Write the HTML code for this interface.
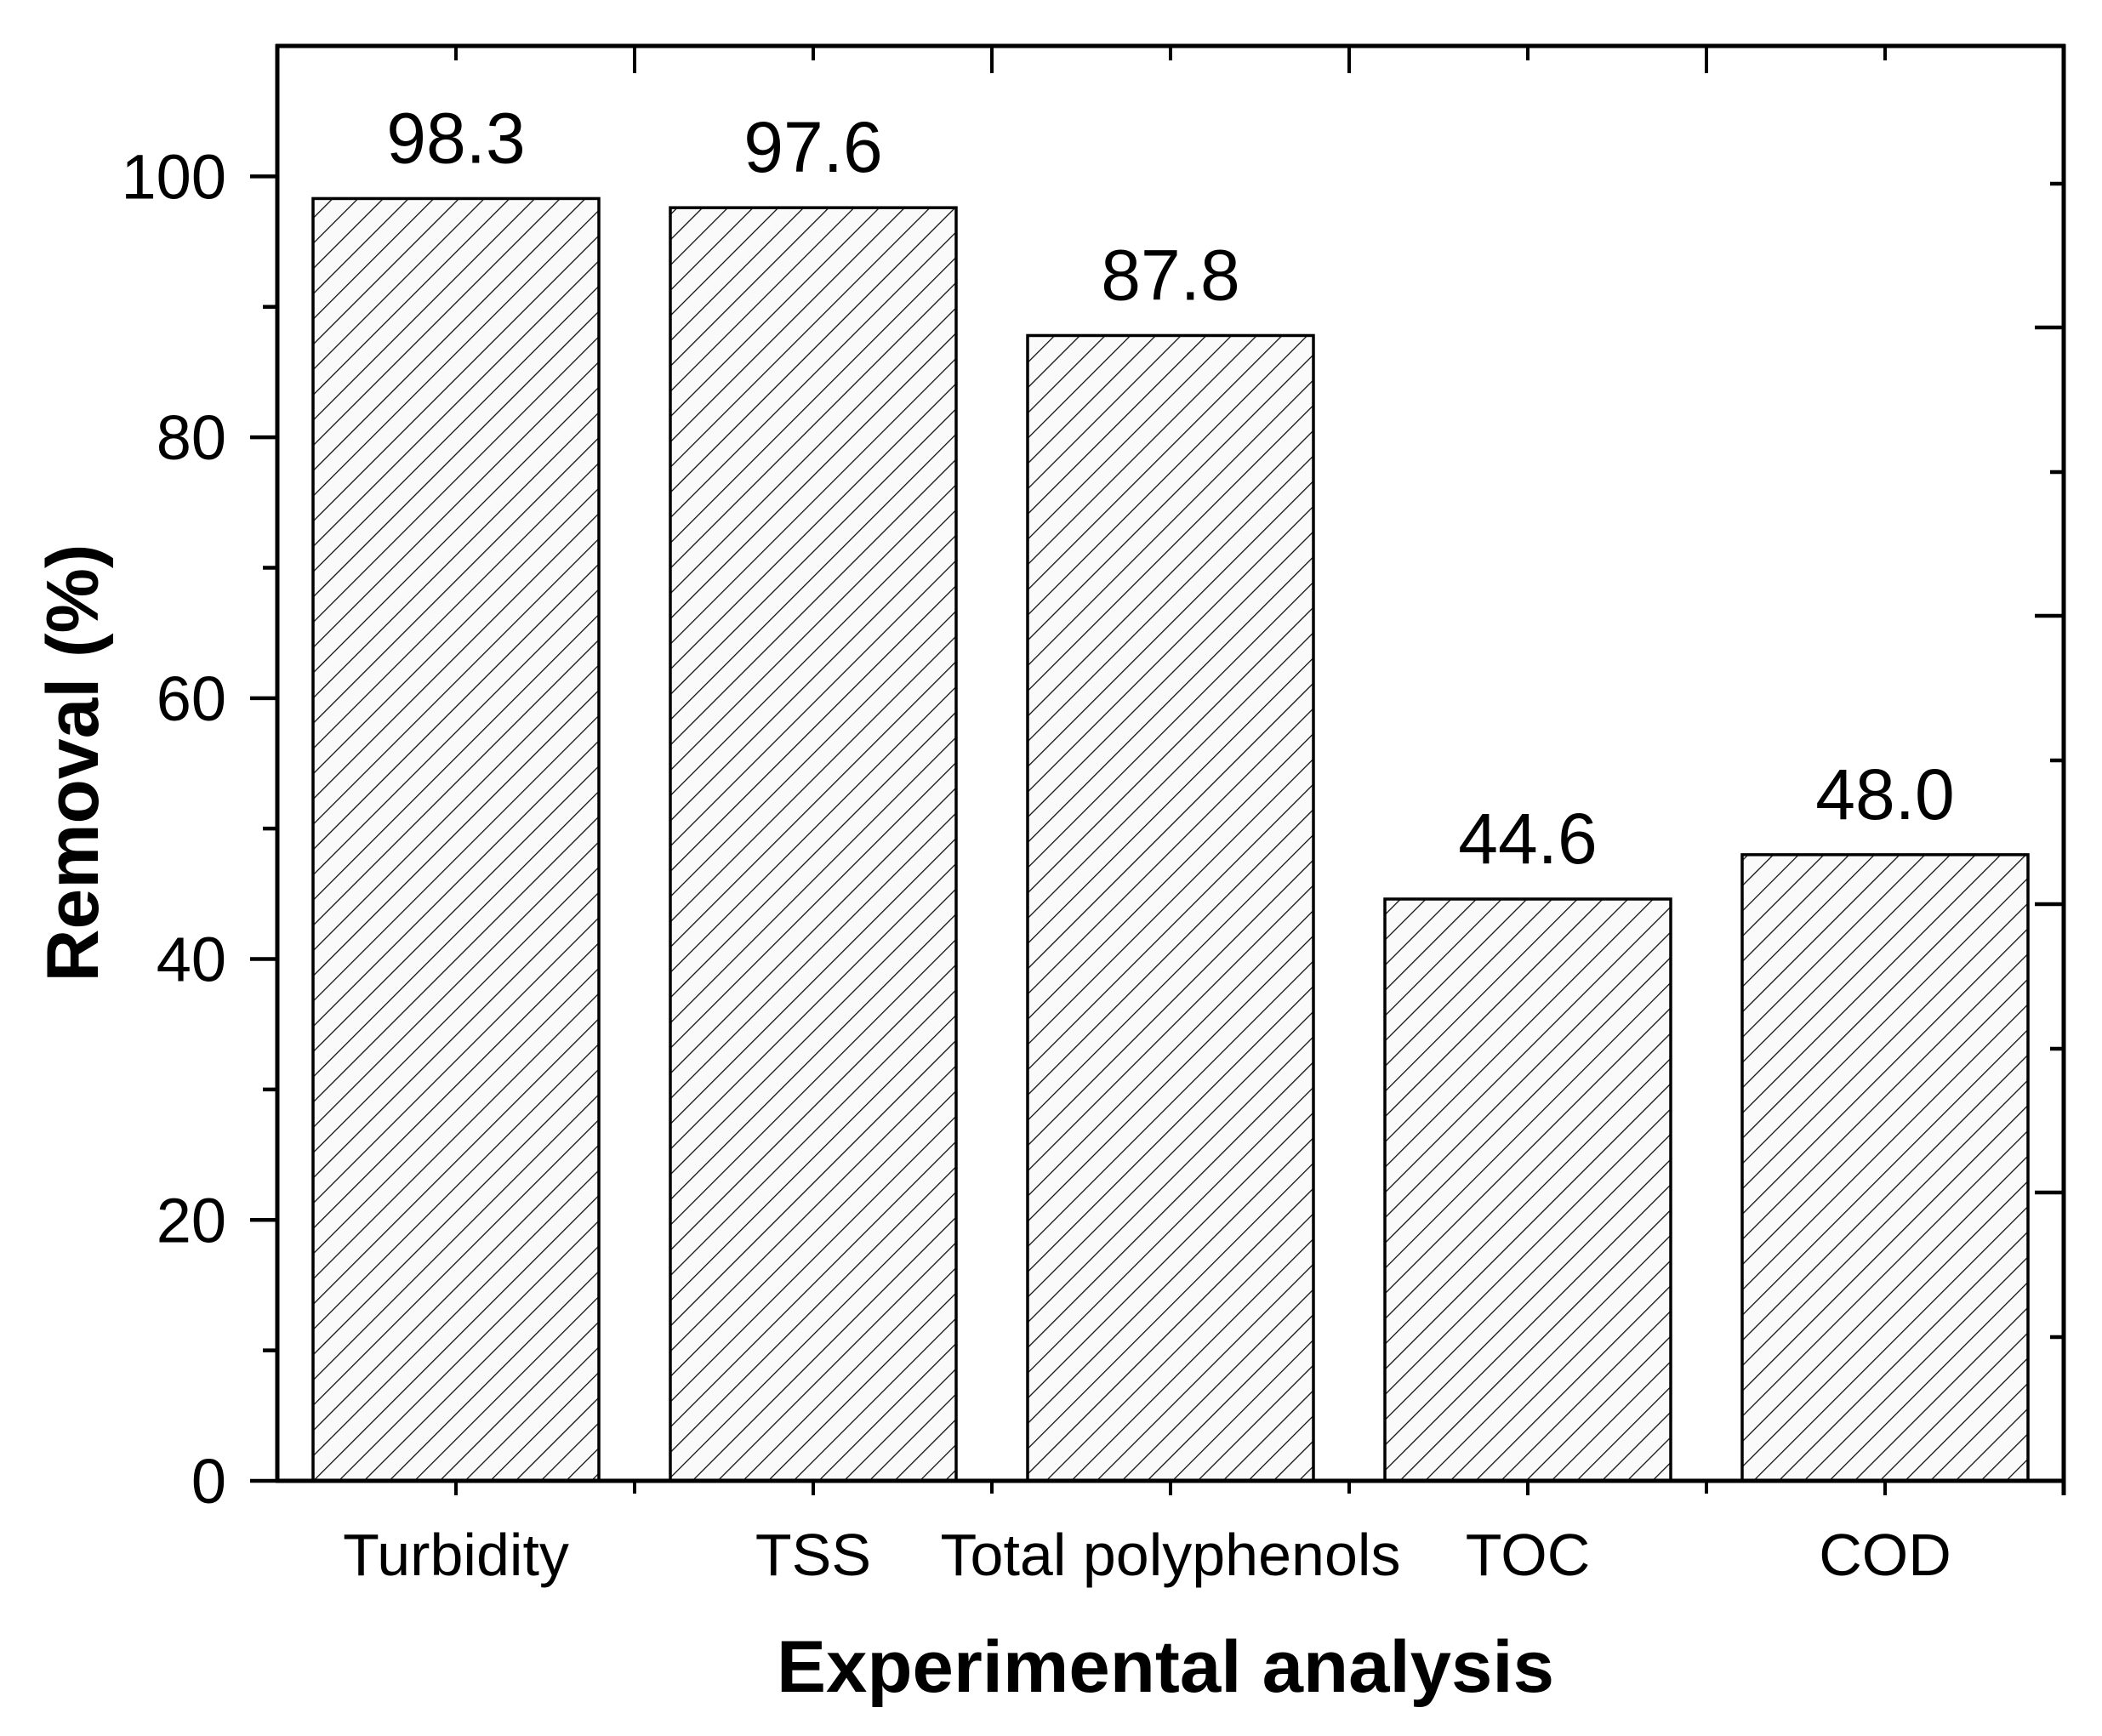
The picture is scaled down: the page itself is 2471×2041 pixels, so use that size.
<!DOCTYPE html>
<html><head><meta charset="utf-8"><style>
html,body{margin:0;padding:0;background:#fff;}
svg{display:block;}
text{font-family:"Liberation Sans",Arial,sans-serif;fill:#000;}
</style></head><body>
<svg id="chart" width="2471" height="2041" viewBox="0 0 2471 2041" xmlns="http://www.w3.org/2000/svg">
<defs>
<pattern id="hatch" patternUnits="userSpaceOnUse" width="21" height="21" patternTransform="rotate(45)">
<rect width="21" height="21" fill="#fafafa"/>
<line x1="0" y1="0" x2="0" y2="21" stroke="#111" stroke-width="2.6"/>
</pattern>
</defs>
<g id="plot"></g>
</svg>
<script>
const categories = ["Turbidity","TSS","Total polyphenols","TOC","COD"];
const values = [98.3, 97.6, 87.8, 44.6, 48.0];
const valueLabels = ["98.3","97.6","87.8","44.6","48.0"];
const yTicks = [0,20,40,60,80,100];

const NS="http://www.w3.org/2000/svg";
const g=document.getElementById('plot');
const L=326,R=2426,T=54,B=1741;
const yMin=0,yMax=110;
function y(v){return B-(v-yMin)/(yMax-yMin)*(B-T);}
function x(i){return L+(i+0.5)/categories.length*(R-L);}
const step=(R-L)/categories.length, bw=step*0.8;
function el(tag,attrs,name,txt){const e=document.createElementNS(NS,tag);for(const k in attrs)e.setAttribute(k,attrs[k]);


if(txt!==undefined)e.textContent=txt;g.appendChild(e);return e;}
function line(x1,y1,x2,y2,w,name){return el('line',{x1,y1,x2,y2,stroke:'#000','stroke-width':w},name);}

categories.forEach((c,i)=>{
  el('rect',{x:x(i)-bw/2,y:y(values[i]),width:bw,height:B-y(values[i]),fill:'url(#hatch)',stroke:'#000','stroke-width':3.5},'bar-'+c.toLowerCase().replace(/ /g,'-'));
  el('text',{x:x(i),y:y(values[i])-42,'font-size':84,'text-anchor':'middle'},'value-label',valueLabels[i]);
  el('text',{x:x(i),y:1852,'font-size':70,'text-anchor':'middle'},'x-tick-label',c);
  line(x(i),B,x(i),B+17,4,'x-major-tick');
  line(x(i),T,x(i),T+17,4,'top-minor-tick');
  if(i<categories.length-1){
    const xm=x(i)+step/2;
    line(xm,B,xm,B+15,4,'x-minor-tick');
    line(xm,T,xm,T+32,4,'top-major-tick');
  }
});
yTicks.forEach((t,i)=>{
  line(L-32,y(t),L,y(t),4.5,'y-major-tick');
  el('text',{x:266,y:y(t)+26,'font-size':74,'text-anchor':'end'},'y-tick-label',String(t));
  if(i<yTicks.length-1) line(L-17,y(t+10),L,y(t+10),4.5,'y-minor-tick');
});
[1402,1063,724,385].forEach(v=>line(R-34,v,R,v,4.5,'right-major-tick'));
[1572,1233,894,555,216].forEach(v=>line(R-16,v,R,v,4.5,'right-minor-tick'));
line(L,T-2,L,B+2,5,'y-axis-line');
line(L-2,B,R+2,B,5,'x-axis-line');
line(L-2,T,R+2,T,5,'top-axis-line');
line(R,T-2,R,B+17,5,'right-axis-line');
el('text',{x:1370,y:1989,'font-size':86,'font-weight':'bold','text-anchor':'middle',textLength:914,lengthAdjust:'spacingAndGlyphs'},'x-axis-title','Experimental analysis');
el('text',{x:0,y:0,'font-size':86,'font-weight':'bold','text-anchor':'middle',transform:'translate(115,897) rotate(-90)',textLength:515,lengthAdjust:'spacingAndGlyphs'},'y-axis-title','Removal (%)');
</script>
</body></html>
